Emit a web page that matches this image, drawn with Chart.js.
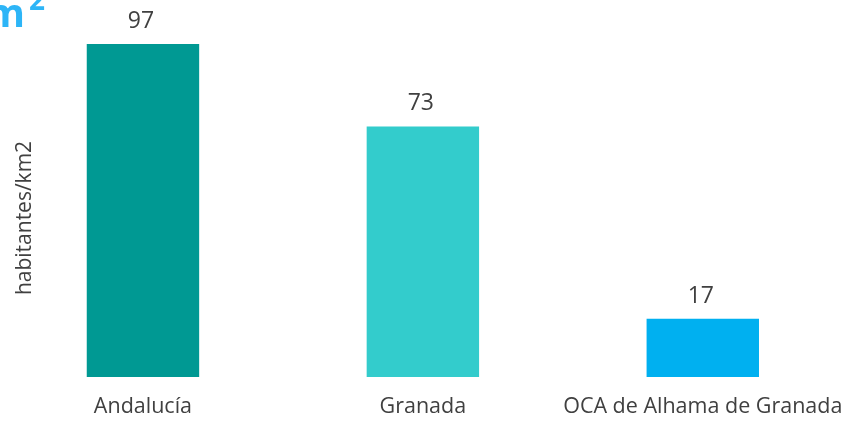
<!DOCTYPE html>
<html><head><meta charset="utf-8">
<script src="https://cdn.jsdelivr.net/npm/chart.js@4"></script>
<style>html,body{margin:0;padding:0;background:#fff;overflow:hidden;}#wrap{width:862px;height:425px;position:relative;}</style>
</head><body>
<div id="wrap"><canvas id="c" width="862" height="425"></canvas></div>
<script>
const categories = ["Andalucía", "Granada", "OCA de Alhama de Granada"];
const values = [97, 73, 17];
const barColors = ["#009993", "#33CCCC", "#00B0F0"];
const yTitle = "habitantes/km2";
const titleMain = "m";
const titleSup = "2";

const FONT = "'Open Sans', sans-serif";
const TEXT = "#404040";

const extras = {
  id: 'extras',
  afterDatasetsDraw(chart) {
    const ctx = chart.ctx;
    const meta = chart.getDatasetMeta(0);
    ctx.save();
    ctx.fillStyle = TEXT;
    ctx.font = "23px " + FONT;
    ctx.textAlign = 'center';
    ctx.textBaseline = 'alphabetic';
    meta.data.forEach((bar, i) => {
      ctx.fillText(String(values[i]), bar.x - 2, bar.y - 16);
    });
    // y title
    ctx.translate(31, 218);
    ctx.rotate(-Math.PI / 2);
    ctx.font = "21px " + FONT;
    ctx.textAlign = 'center';
    ctx.fillText(yTitle, 0, 0);
    ctx.restore();
    // cut title fragment
    ctx.save();
    ctx.fillStyle = "#2DB5F7";
    ctx.font = "bold 40px " + FONT;
    ctx.textAlign = 'right';
    ctx.fillText(titleMain, 25, 27);
    ctx.font = "bold 28px " + FONT;
    ctx.textAlign = 'left';
    ctx.fillText(titleSup, 29, 10);
    ctx.restore();
  }
};

new Chart(document.getElementById('c'), {
  type: 'bar',
  data: {
    labels: categories,
    datasets: [{
      data: values,
      backgroundColor: barColors,
      borderWidth: 0,
      barPercentage: 0.8,
      categoryPercentage: 0.502
    }]
  },
  options: {
    responsive: false,
    animation: false,
    layout: { padding: { left: 3, right: 15.5, top: 33.7, bottom: 0 } },
    plugins: { legend: { display: false }, tooltip: { enabled: false } },
    scales: {
      x: {
        grid: { display: false, drawTicks: false },
        border: { display: false },
        ticks: { color: TEXT, font: { family: "'Open Sans'", size: 21.5, lineHeight: 1.2 }, padding: 17, maxRotation: 0, autoSkip: false },
        afterFit(scale) { scale.height = 48; }
      },
      y: { display: false, min: 0, max: 100 }
    }
  },
  plugins: [extras]
});
</script>
</body></html>
